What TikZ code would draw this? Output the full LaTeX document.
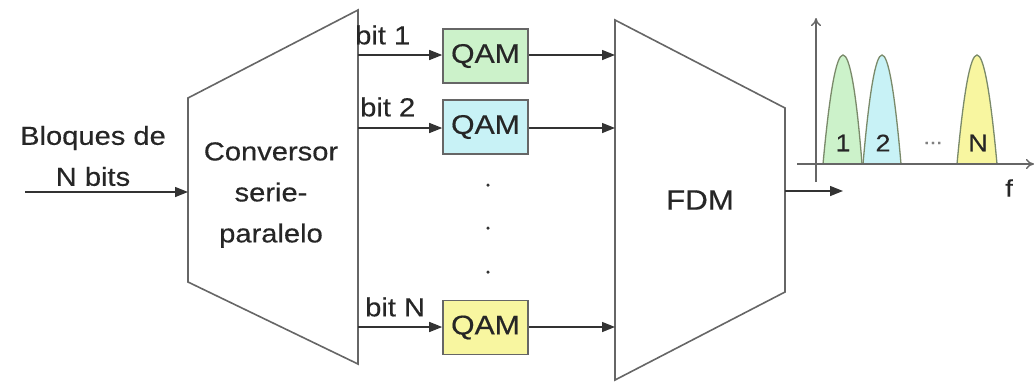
\documentclass[tikz,border=0pt]{standalone}
\usepackage{fontspec}
\setmainfont{Liberation Sans}[FakeStretch=1.12,FakeBold=0.4]
\usetikzlibrary{arrows.meta}
\definecolor{txt}{HTML}{262626}
\definecolor{edge}{HTML}{666666}
\definecolor{qgreen}{HTML}{CCF2CA}
\definecolor{qblue}{HTML}{C8F2F6}
\definecolor{qyellow}{HTML}{F8F6A0}
\definecolor{pedge}{HTML}{7A8A6A}
\tikzset{
  lbl/.style={text=txt, font=\fontsize{26}{41}\selectfont, inner sep=0pt, align=center},
  qam/.style={draw=edge, line width=1.6pt, minimum width=85pt, minimum height=54pt, inner sep=0pt, text=txt, font=\fontsize{27}{30}\selectfont},
  block/.style={draw=edge, line width=1.6pt, fill=white},
  sig/.style={draw=black!80, line width=1.4pt, -{Triangle[length=13pt,width=10pt]}},
  axis/.style={draw=edge, line width=1.4pt, -{To[length=8pt,width=10pt]}},
  peak/.style={draw=pedge, line width=1.3pt},
  dotmark/.style={circle, fill=black!80, inner sep=0pt, minimum size=3.5pt}
}
\begin{document}
\begin{tikzpicture}[x=1pt,y=-1pt]
\useasboundingbox (0,0) rectangle (1035,384);
% converter trapezoid
\draw[block] (188,98) -- (358,10) -- (358,364) -- (188,282) -- cycle;
\coordinate (convin) at (188,192);
\coordinate (c1) at (358,55);
\coordinate (c2) at (358,128);
\coordinate (cN) at (358,327);
\node[lbl] (conv) at (271,195) {Conversor\\serie-\\paralelo};
% input
\coordinate (src) at (25,192);
\node[lbl] (inlbl) at (93,156) {Bloques de\\N bits};
\draw[sig] (src) -- (convin);
% QAM blocks
\node[qam, fill=qgreen] (q1) at (485.5,56) {QAM};
\node[qam, fill=qblue] (q2) at (485.5,127) {QAM};
\node[qam, fill=qyellow] (qN) at (485.5,327.5) {QAM};
\node[lbl, anchor=west] (b1) at (355,35) {bit 1};
\node[lbl, anchor=west] (b2) at (360,107) {bit 2};
\node[lbl, anchor=west] (bN) at (365,307) {bit N};
\draw[sig] (c1) -- (c1 -| q1.west);
\draw[sig] (c2) -- (c2 -| q2.west);
\draw[sig] (cN) -- (cN -| qN.west);
% dots
\node[dotmark] (d1) at (488,185) {};
\node[dotmark] (d2) at (488,228) {};
\node[dotmark] (d3) at (488,272) {};
% FDM trapezoid
\draw[block] (615,20) -- (785,108) -- (785,292) -- (615,380) -- cycle;
\coordinate (f1) at (615,55);
\coordinate (f2) at (615,128);
\coordinate (fN) at (615,327);
\node[lbl, font=\fontsize{28}{30}\selectfont] (fdm) at (700,200) {FDM};
\draw[sig] (q1.east |- f1) -- (f1);
\draw[sig] (q2.east |- f2) -- (f2);
\draw[sig] (qN.east |- fN) -- (fN);
% output
\coordinate (fout) at (785,191);
\coordinate (outend) at (843,191);
\draw[sig] (fout) -- (outend);
% spectrum
\coordinate (vb) at (816,182);
\coordinate (vt) at (816,18);
\coordinate (hl) at (797,164);
\coordinate (hr) at (1034,164);
\draw[peak, fill=qgreen] (823,164) .. controls (829.7,91.3) and (836.3,55) .. (843,55) .. controls (849.7,55) and (856.3,91.3) .. (862,164) -- cycle;
\draw[peak, fill=qblue] (863,164) .. controls (869.3,91.3) and (875.7,55) .. (882,55) .. controls (888.3,55) and (894.7,91.3) .. (901,164) -- cycle;
\draw[peak, fill=qyellow] (957,164) .. controls (963.7,91.3) and (970.3,55) .. (977,55) .. controls (983.7,55) and (990.3,91.3) .. (997,164) -- cycle;
\draw[axis] (vb) -- (vt);
\draw[axis] (hl) -- (hr);
\node[lbl, font=\fontsize{24}{26}\selectfont] (p1) at (843,143) {1};
\node[lbl, font=\fontsize{24}{26}\selectfont] (p2) at (883,143) {2};
\node[lbl, font=\fontsize{24}{26}\selectfont] (pN) at (978,143) {N};
\node[lbl, text=black!50, font=\fontsize{20}{22}\selectfont] (pd) at (933,143) {...};
\node[lbl, font=\fontsize{24}{26}\selectfont] (fl) at (1009,188) {f};
\end{tikzpicture}
\end{document}
